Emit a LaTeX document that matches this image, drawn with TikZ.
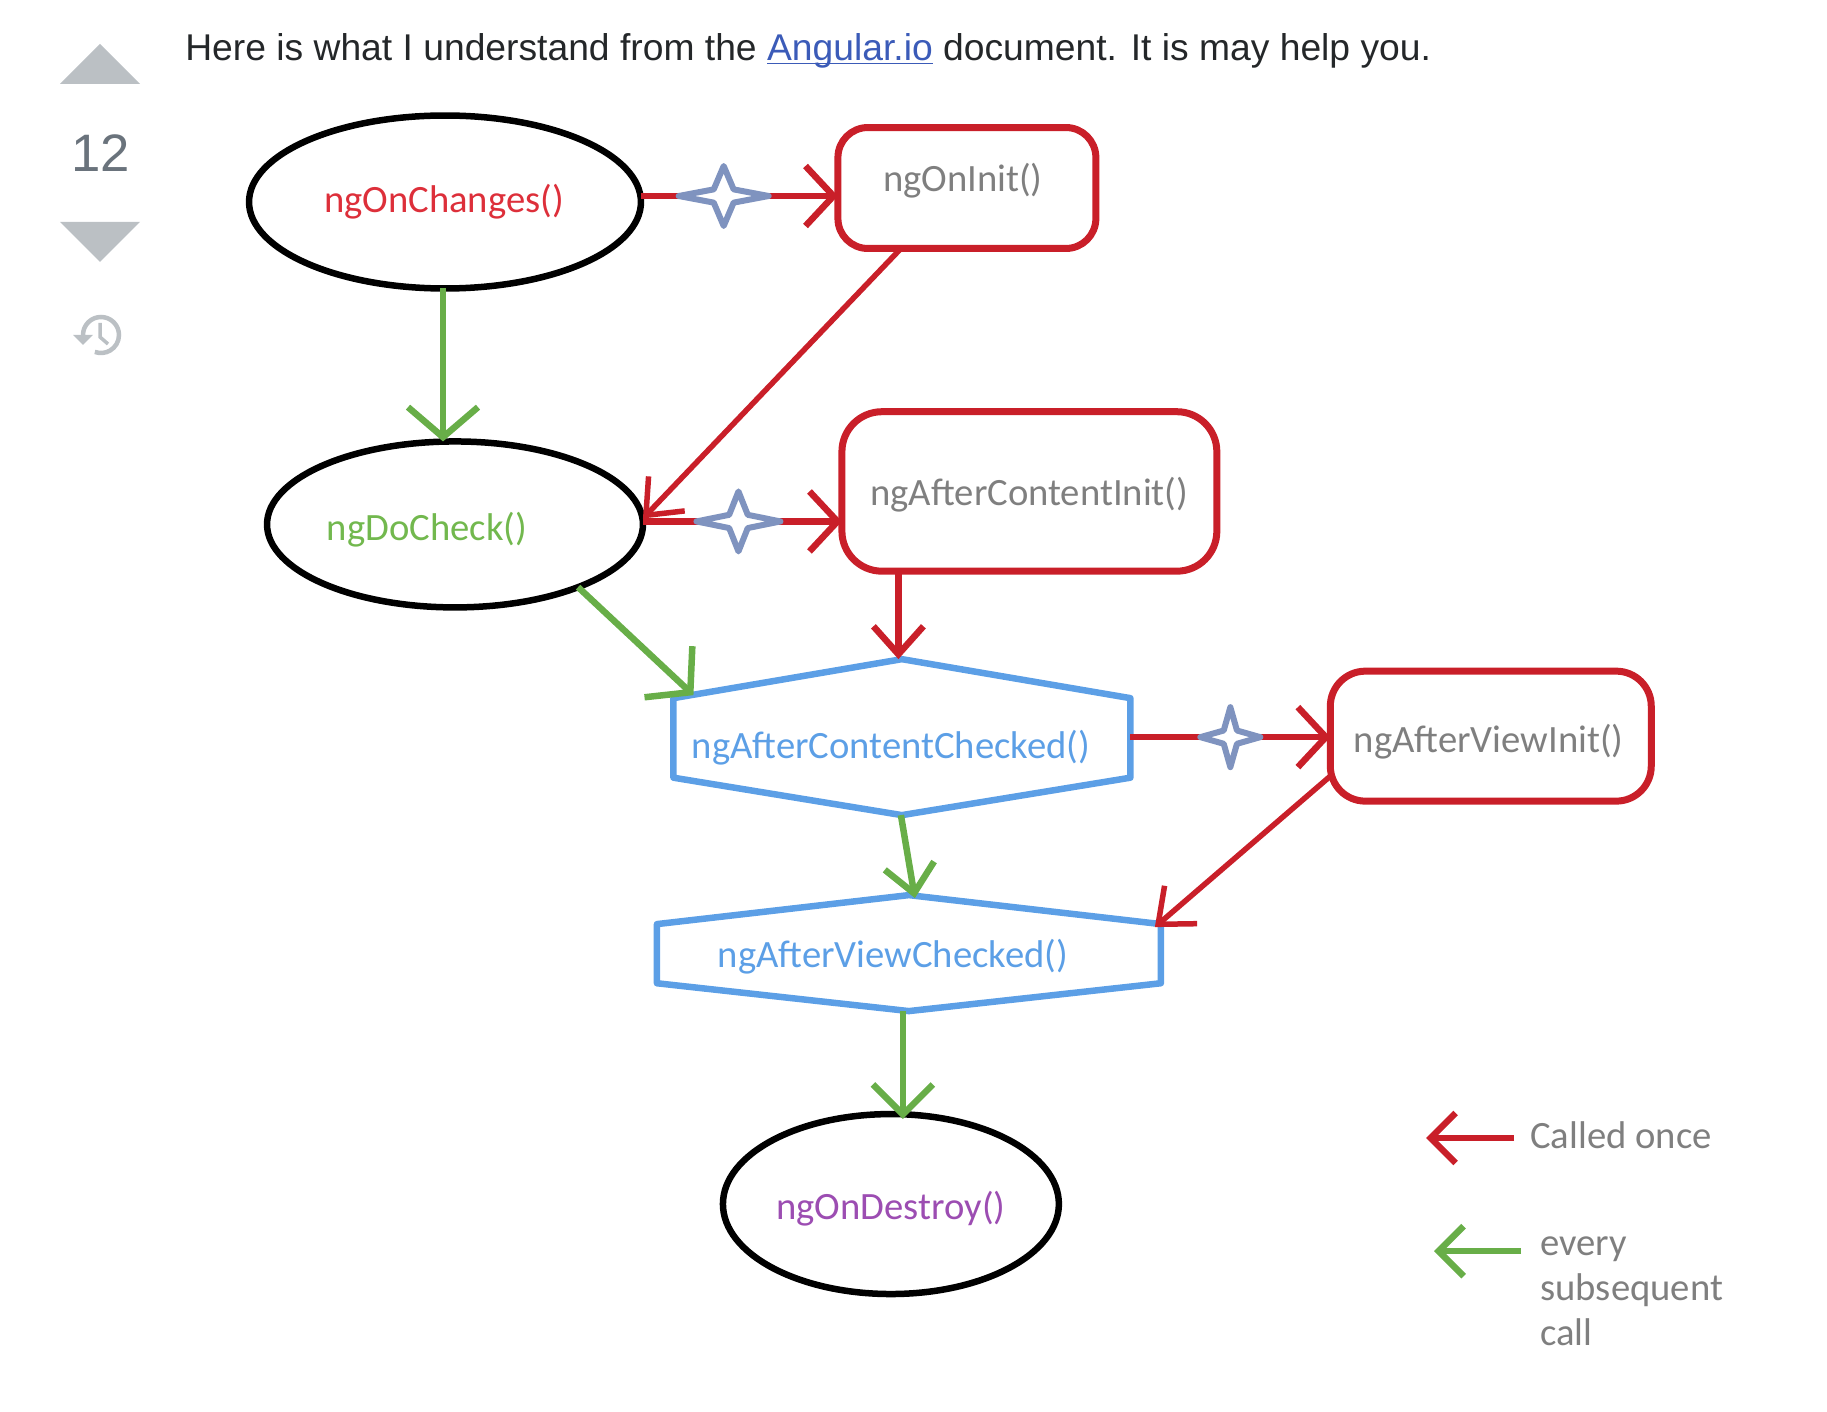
\documentclass[tikz,border=0pt]{standalone}
\usepackage{fontspec}
\setmainfont{Liberation Sans}
\newfontfamily\calibri{Carlito}
\usetikzlibrary{positioning, arrows.meta, calc, shapes.geometric}
\definecolor{hookred}{HTML}{C91F29}
\definecolor{hookgreen}{HTML}{68AE48}
\definecolor{hookblue}{HTML}{5C9FE6}
\definecolor{sparkblue}{HTML}{7F93BF}
\definecolor{votegray}{HTML}{BBC0C4}
\definecolor{scoregray}{HTML}{6A737C}
\definecolor{bodyink}{HTML}{242729}
\definecolor{linkblue}{HTML}{3B5BB8}
\definecolor{labelgray}{HTML}{7F7F7F}
\definecolor{labelred}{HTML}{DD2F3A}
\definecolor{labelgreen}{HTML}{72B84E}
\definecolor{labelpurple}{HTML}{9C4DB2}
\begin{document}
\begin{tikzpicture}[
  x=0.02cm, y=-0.02cm,
  node distance=2cm and 4cm,
  oval/.style={draw=black, ellipse, line width=.13cm, inner sep=0pt, outer sep=0pt},
  hookbox/.style={draw=hookred, line width=.14cm, inner sep=0pt, outer sep=0pt},
  hexbox/.style={inner sep=0pt, outer sep=0pt},
  hexline/.style={draw=hookblue, line width=.13cm, line join=round},
  hookname/.style={font=\calibri\fontsize{22}{26}\selectfont, inner sep=0pt},
  sparkle/.style={star, star points=4, star point ratio=3.2, minimum size=1.2cm,
                  inner sep=0pt, draw=sparkblue, fill=white, line width=.12cm,
                  line join=round},
  onearrow/.style={draw=hookred, line width=.13cm,
                   -{Straight Barb[length=.56cm, width=1.2cm]}},
  everyarrow/.style={draw=hookgreen, line width=.13cm,
                     -{Straight Barb[length=.6cm, width=1.4cm]}},
]
  \useasboundingbox (0,0) rectangle (1827,1412);
  % Vote column
  \fill[votegray] (100,44) -- (140,84) -- (60,84) -- cycle;
  \fill[votegray] (60,222) -- (140,222) -- (100,262) -- cycle;
  \node[font=\fontsize{30}{36}\selectfont, text=scoregray, inner sep=0pt] (score) at (101,153) {12};
  \draw[votegray, line width=.09cm] (83,335) arc[start angle=180, end angle=470, radius=18];
  \fill[votegray] (73,335) -- (93,335) -- (83,345) -- cycle;
  \draw[votegray, line width=.07cm] (100,323) -- (100,337) -- (108,344);
  % Sentence above the diagram
  \node[anchor=west, inner sep=0pt, text=bodyink, font=\fontsize{21.2}{26}\selectfont] (intro) at (185,51)
    {Here is what I understand from the \textcolor{linkblue}{\underline{\smash{Angular.io}}} document. It is may help you.};
  % First column
  \node[oval, minimum width=7.84cm, minimum height=3.46cm] (changes) at (445,202) {};
  \node[hookname, text=labelred, xshift=-.02cm] (changestxt) at (changes) {ngOnChanges()};
  \node[oval, minimum width=7.52cm, minimum height=3.32cm, below=3.06cm of changes, xshift=.2cm] (docheck) {};
  \node[hookname, text=labelgreen, xshift=-.56cm, yshift=-.11cm] (dochecktxt) at (docheck) {ngDoCheck()};
  % Called once boxes
  \node[hookbox, rounded corners=.6cm, minimum width=5.16cm, minimum height=2.42cm,
        right=3.94cm of changes, yshift=.28cm] (oninit) {};
  \node[hookname, text=labelgray, xshift=-.08cm, yshift=.14cm] (oninittxt) at (oninit) {ngOnInit()};
  \node[hookbox, rounded corners=.8cm, minimum width=7.5cm, minimum height=3.19cm,
        right=3.98cm of docheck, yshift=.66cm] (contentinit) {};
  \node[hookname, text=labelgray, yshift=-.07cm] (contentinittxt) at (contentinit) {ngAfterContentInit()};
  % Hexagons
  \node[hexbox, minimum width=9.14cm, minimum height=3.12cm,
        below=1.76cm of contentinit, xshift=-2.55cm] (contentchk) {};
  \node[hexbox, minimum width=10.08cm, minimum height=2.32cm,
        below=1.6cm of contentchk, xshift=.14cm] (viewchk) {};
  \foreach \hex in {contentchk, viewchk}
    \draw[hexline] (\hex.north) -- ($(\hex.north east)!.25!(\hex.south east)$)
      -- ($(\hex.north east)!.76!(\hex.south east)$) -- (\hex.south)
      -- ($(\hex.north west)!.76!(\hex.south west)$)
      -- ($(\hex.north west)!.25!(\hex.south west)$) -- cycle;
  \node[hookname, text=hookblue, xshift=-.22cm, yshift=-.22cm] (contentchktxt) at (contentchk) {ngAfterContentChecked()};
  \node[hookname, text=hookblue, xshift=-.32cm, yshift=-.08cm] (viewchktxt) at (viewchk) {ngAfterViewChecked()};
  % Last two
  \node[hookbox, rounded corners=.7cm, minimum width=6.42cm, minimum height=2.6cm,
        right=4cm of contentchk, yshift=.02cm] (viewinit) {};
  \node[hookname, text=labelgray, xshift=-.04cm, yshift=-.12cm] (viewinittxt) at (viewinit) {ngAfterViewInit()};
  \node[oval, minimum width=6.72cm, minimum height=3.6cm, below=2.06cm of viewchk, xshift=-.36cm] (destroy) {};
  \node[hookname, text=labelpurple, yshift=-.1cm] (destroytxt) at (destroy) {ngOnDestroy()};
  % Arrows
  \draw[everyarrow] ([xshift=-.04cm]changes.south) -- ([xshift=-.04cm]changes.south |- docheck.north);
  \draw[onearrow] ([yshift=.12cm]changes.east) -- ([yshift=.12cm]changes.east -| oninit.west)
    node[sparkle, xscale=1.5, transform shape, pos=.42] (spark1) {};
  \draw[onearrow, line width=.11cm, -{Straight Barb[length=.6cm, width=1cm]}]
    ([xshift=-1.32cm]oninit.south) -- ([yshift=.12cm]docheck.east);
  \draw[onearrow] ([yshift=.06cm]docheck.east) -- ([yshift=.06cm]docheck.east -| contentinit.west)
    node[sparkle, xscale=1.4, transform shape, pos=.48] (spark2) {};
  \draw[onearrow, -{Straight Barb[length=.56cm, width=1cm]}]
    ([xshift=-2.62cm]contentinit.south) -- ([xshift=-2.62cm]contentinit.south |- contentchk.north);
  \draw[everyarrow] (docheck.-27) -- ($(contentchk.north west)+(.4cm,-.72cm)$);
  \draw[onearrow] (contentchk.east) -- (contentchk.east -| viewinit.west)
    node[sparkle, pos=.5] (spark3) {};
  \draw[everyarrow, -{Straight Barb[length=.56cm, width=1cm]}]
    ([xshift=-.02cm]contentchk.south) -- ([xshift=.12cm, yshift=-.06cm]viewchk.north);
  \draw[onearrow, line width=.11cm, -{Straight Barb[length=.6cm, width=1cm]}]
    ([yshift=-.8cm]viewinit.west) -- ($(viewchk.north east)+(-.12cm,-.64cm)$);
  \draw[everyarrow, -{Straight Barb[length=.6cm, width=1.2cm]}]
    ([xshift=-.12cm]viewchk.south) -- ([xshift=-.12cm, yshift=-.1cm]viewchk.south |- destroy.north);
  % Legend
  \node[hookname, text=labelgray, anchor=west] (oncetxt) at (1530,1135) {Called once};
  \coordinate[left=.32cm of oncetxt, yshift=-.06cm] (oncetail);
  \coordinate[left=1.76cm of oncetail] (oncetip);
  \draw[onearrow, -{Straight Barb[length=.5cm, width=1cm]}] (oncetail) -- (oncetip);
  \node[hookname, text=labelgray, anchor=west, align=left,
        font=\calibri\fontsize{22}{25.6}\selectfont] (everytxt) at (1540,1291)
    {every\\subsequent\\call};
  \coordinate (everytail) at ($(everytxt.north west)+(-.38cm,-.3cm)$);
  \coordinate[left=1.74cm of everytail] (everytip);
  \draw[everyarrow, -{Straight Barb[length=.5cm, width=1cm]}] (everytail) -- (everytip);
\end{tikzpicture}
\end{document}
